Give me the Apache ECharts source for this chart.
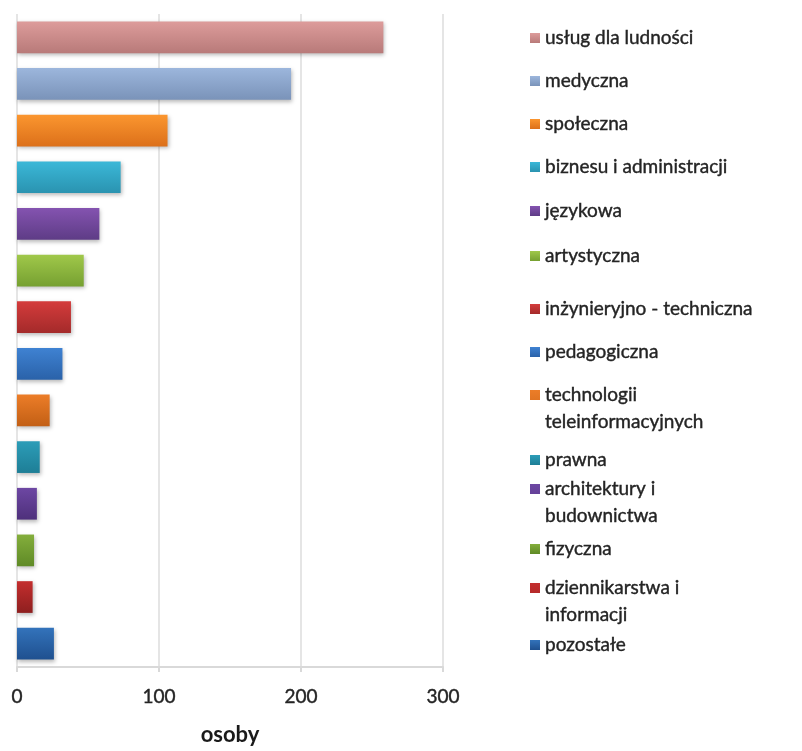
<!DOCTYPE html>
<html>
<head>
<meta charset="utf-8">
<script src="https://cdn.jsdelivr.net/npm/echarts@6/dist/echarts.min.js"></script>
<style>
html,body{margin:0;padding:0;background:#fff;}
#chart{width:802px;height:751px;}
</style>
</head>
<body>
<div id="chart"></div>
<script>
// ---- data ----
const categories = [
  "usług dla ludności",
  "medyczna",
  "społeczna",
  "biznesu i administracji",
  "językowa",
  "artystyczna",
  "inżynieryjno - techniczna",
  "pedagogiczna",
  "technologii\nteleinformacyjnych",
  "prawna",
  "architektury i\nbudownictwa",
  "fizyczna",
  "dziennikarstwa i\ninformacji",
  "pozostałe"
];
const values = [258, 193, 106, 73, 58, 47, 38, 32, 23, 16, 14, 12, 11, 26];
const xTicks = [0, 100, 200, 300];
const axisTitle = "osoby";

// ---- styles (not data) ----
const colorTop = ["#dd9c9b","#9cb6dc","#fb962f","#3bb8d8","#8453b0","#a0c84a","#d43c3c","#3f82d2","#ec7d28","#2c9db8","#6d47a3","#84ae3c","#c42e2e","#3373bb"];
const colorBot = ["#b87a79","#7a93b9","#dc701a","#2a93b0","#5e3c86","#76a031","#a42a2a","#2a62a9","#c25f15","#1e7e96","#4e307b","#5f8a26","#8e1f1f","#1f508f"];
const legendCenters = [38, 81, 124, 167, 211, 256, 309, 352, 395, 460, 489, 549, 588, 645];

const FONT = "Lato";
const LH = 27;
const TEXT_COLOR = "#242424";

const series = categories.map((name, i) => ({
  type: "bar",
  name: name,
  barGap: "-100%",
  barCategoryGap: "32%",
  data: categories.map((c, j) => (j === i ? values[j] : "-")),
  itemStyle: {
    color: new echarts.graphic.LinearGradient(0, 0, 0, 1, [
      { offset: 0, color: colorTop[i] },
      { offset: 1, color: colorBot[i] }
    ]),
    shadowColor: "rgba(0,0,0,0.28)",
    shadowBlur: 4,
    shadowOffsetX: 1,
    shadowOffsetY: 2
  },
  emphasis: { disabled: true },
  silent: true
}));

const legends = categories.map((name, i) => {
  const twoLine = name.indexOf("\n") >= 0;
  return {
    show: true,
    orient: "vertical",
    left: 530,
    top: legendCenters[i] - 13.5,
    padding: 0,
    itemGap: 0,
    itemWidth: 10,
    itemHeight: twoLine ? 37 : 10,
    selectedMode: false,
    data: [{
      name: name,
      icon: twoLine ? "path://M0,0h10v10h-10z M0,36.99h0.01v0.01h-0.01z" : "rect"
    }],
    textStyle: {
      fontFamily: FONT, fontSize: 19, lineHeight: LH, color: TEXT_COLOR,
      textBorderColor: TEXT_COLOR, textBorderWidth: 0.4
    }
  };
});

const chart = echarts.init(document.getElementById("chart"), null, { renderer: "canvas" });
chart.setOption({
  animation: false,
  backgroundColor: "#ffffff",
  textStyle: { fontFamily: FONT },
  grid: { left: 17, right: 359, top: 14, bottom: 76, containLabel: false },
  legend: legends,
  xAxis: {
    type: "value",
    min: xTicks[0],
    max: xTicks[xTicks.length - 1],
    interval: xTicks[1] - xTicks[0],
    name: axisTitle,
    nameLocation: "middle",
    nameGap: 57,
    nameTextStyle: { fontFamily: FONT, fontSize: 22, fontWeight: "bold", color: "#1a1a1a" },
    axisLine: { show: true, lineStyle: { color: "#d9d9d9", width: 2 } },
    axisTick: { show: true, length: 5, lineStyle: { color: "#d9d9d9", width: 2 } },
    axisLabel: {
      fontFamily: FONT, fontSize: 19, color: TEXT_COLOR, margin: 20,
      textBorderColor: TEXT_COLOR, textBorderWidth: 0.4
    },
    splitLine: { show: true, lineStyle: { color: "#dcdcdc", width: 1.5 } }
  },
  yAxis: {
    type: "category",
    inverse: true,
    data: categories,
    axisLine: { show: false },
    axisTick: { show: false },
    axisLabel: { show: false },
    splitLine: { show: false }
  },
  series: series
});
</script>
</body>
</html>
